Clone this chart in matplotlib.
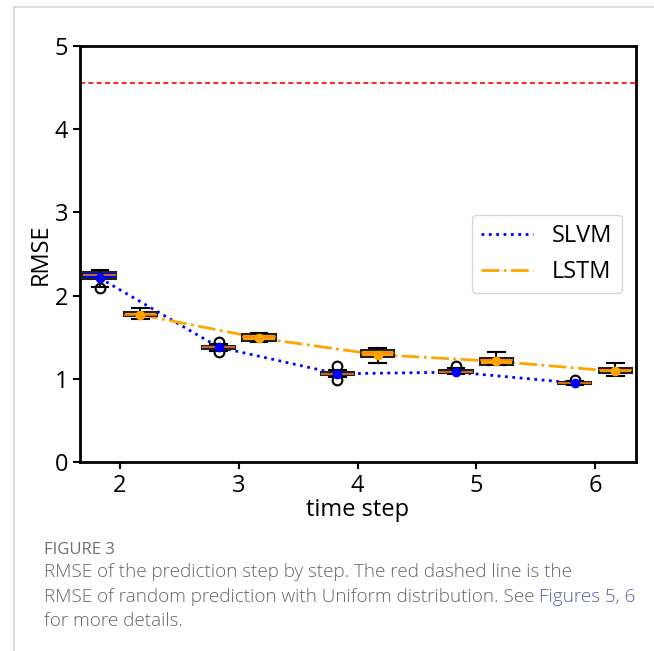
import matplotlib
matplotlib.use("Agg")
import matplotlib.pyplot as plt
from matplotlib.lines import Line2D

plt.rcParams['font.family'] = ['Open Sans', 'DejaVu Sans']

steps = [2, 3, 4, 5, 6]

# SLVM box statistics
slvm_mean = [2.21, 1.38, 1.06, 1.08, 0.95]
slvm_med = [2.25, 1.38, 1.06, 1.08, 0.945]
slvm_q1 = [2.20, 1.36, 1.045, 1.07, 0.935]
slvm_q3 = [2.28, 1.40, 1.085, 1.105, 0.965]
slvm_lo = [2.10, 1.34, 1.02, 1.06, 0.93]
slvm_hi = [2.31, 1.42, 1.11, 1.13, 0.97]
slvm_fliers = [[2.09], [1.44, 1.32], [1.15, 0.99], [1.15], [0.99]]

# LSTM box statistics
lstm_mean = [1.77, 1.49, 1.29, 1.21, 1.09]
lstm_med = [1.77, 1.50, 1.31, 1.22, 1.10]
lstm_q1 = [1.75, 1.46, 1.26, 1.17, 1.07]
lstm_q3 = [1.80, 1.54, 1.35, 1.25, 1.13]
lstm_lo = [1.72, 1.44, 1.19, 1.17, 1.03]
lstm_hi = [1.85, 1.55, 1.37, 1.32, 1.19]
lstm_fliers = [[], [], [], [], []]

random_rmse = 4.55

W, H = 654, 651
fig = plt.figure(figsize=(W / 100, H / 100), dpi=100)
ax = fig.add_axes([80 / W, 1 - 462 / H, (636 - 80) / W, (462 - 46) / H])

offset = 0.17
width = 0.28


def make_stats(means, meds, q1, q3, lo, hi, fl):
    return [dict(mean=m, med=md, q1=a, q3=b, whislo=l, whishi=h, fliers=f)
            for m, md, a, b, l, h, f in zip(means, meds, q1, q3, lo, hi, fl)]


pos_s = [s - offset for s in steps]
pos_l = [s + offset for s in steps]

for stats, pos, face in [
    (make_stats(slvm_mean, slvm_med, slvm_q1, slvm_q3, slvm_lo, slvm_hi, slvm_fliers), pos_s, 'blue'),
    (make_stats(lstm_mean, lstm_med, lstm_q1, lstm_q3, lstm_lo, lstm_hi, lstm_fliers), pos_l, 'orange'),
]:
    ax.bxp(stats, positions=pos, widths=width, patch_artist=True, showmeans=True,
           boxprops=dict(facecolor=face, edgecolor='#222222', linewidth=1.5),
           medianprops=dict(color='#ff7f0e', linewidth=1.1),
           whiskerprops=dict(color='black', linewidth=1.5),
           capprops=dict(color='black', linewidth=1.5),
           flierprops=dict(marker='o', markerfacecolor='none', markeredgecolor='black',
                           markersize=7, markeredgewidth=1.5),
           meanprops=dict(marker='o', markerfacecolor=face, markeredgecolor=face,
                          markersize=6),
           manage_ticks=False)

ax.plot(pos_s, slvm_mean, color='blue', linestyle=':', linewidth=2, label='SLVM', zorder=1)
ax.plot(pos_l, lstm_mean, color='orange', linestyle='-.', linewidth=2, label='LSTM', zorder=1)
ax.axhline(random_rmse, color='red', linestyle=(0, (3, 2)), linewidth=1.2)

ax.set_xlim(1.663, 6.345)
ax.set_ylim(0, 5)
ax.set_xticks(steps)
ax.set_xticklabels([str(s) for s in steps])
ax.set_yticks([0, 1, 2, 3, 4, 5])
ax.tick_params(labelsize=17, width=1.5, length=5)
for sp in ax.spines.values():
    sp.set_linewidth(2)
ax.set_xlabel('time step', fontsize=17, labelpad=0)
ax.set_ylabel('RMSE', fontsize=17, labelpad=1)

ax.legend(fontsize=17, loc='center right', bbox_to_anchor=(0.996, 0.50),
          handlelength=2.2, borderpad=0.4, labelspacing=0.5, handletextpad=0.8)

# Caption frame lines
fig.add_artist(Line2D([14 / W, 14 / W], [0, 1 - 7 / H], color='#d8d8d8', linewidth=1.2))
fig.add_artist(Line2D([14 / W, 1], [1 - 7 / H, 1 - 7 / H], color='#d8d8d8', linewidth=1.2))

# Caption
gray = '#666666'
fs = 13.6
fig.text(44 / W, 1 - 550 / H, 'FIGURE 3', fontsize=12, color='#707070', va='center')
x0 = 44 / W
fig.text(x0, 1 - 572 / H, 'RMSE of the prediction step by step. The red dashed line is the',
         fontsize=fs, color=gray, va='center', fontweight='light')
t2 = fig.text(x0, 1 - 597 / H, 'RMSE of random prediction with Uniform distribution. See ',
              fontsize=fs, color=gray, va='center', fontweight='light')
fig.canvas.draw()
bb = t2.get_window_extent(fig.canvas.get_renderer())
fig.text(bb.x1 / W, 1 - 597 / H, 'Figures 5, 6', fontsize=fs, color='#5b5fa8',
         va='center', fontweight='light')
fig.text(x0, 1 - 621 / H, 'for more details.', fontsize=fs, color=gray, va='center',
         fontweight='light')

fig.savefig('out.png', dpi=100)
